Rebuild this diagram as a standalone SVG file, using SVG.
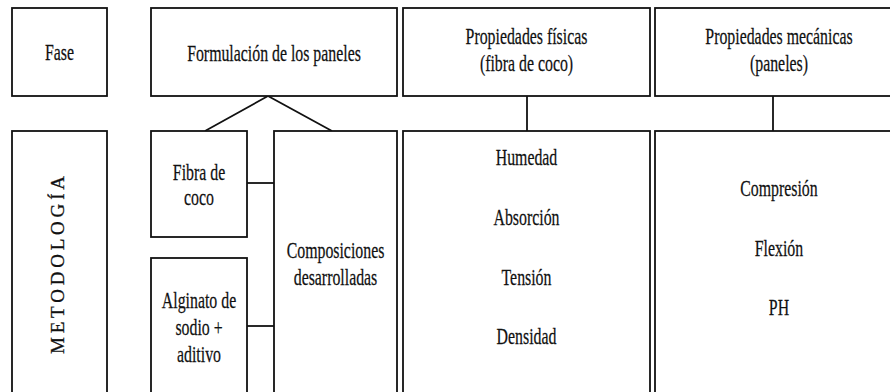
<svg xmlns="http://www.w3.org/2000/svg" width="890" height="392" viewBox="0 0 890 392">
<style>
.box{fill:#fff;stroke:#111;stroke-width:1.8}
.ln{fill:none;stroke:#111;stroke-width:1.8}
text{font-family:'Liberation Serif','Times New Roman',serif;fill:#111;text-anchor:middle}
.t{font-size:24px;stroke:#111;stroke-width:0.25}
.v{font-size:19px;stroke:#111;stroke-width:0.3}
</style>
<rect width="890" height="392" fill="#fff"/>
<g id="connectors">
<polyline class="ln" points="205,131 268,96 332,131"/>
<line class="ln" x1="527" y1="96" x2="527" y2="131"/>
<line class="ln" x1="773" y1="96" x2="773" y2="131"/>
<line class="ln" x1="247" y1="183" x2="274" y2="183"/>
<line class="ln" x1="247" y1="326" x2="274" y2="326"/>
</g>
<g id="fase">
<rect class="box" x="12" y="8" width="95" height="88"/>
<text class="t" transform="translate(59.5 60) scale(0.66 1)">Fase</text>
</g>
<g id="formulacion">
<rect class="box" x="151" y="8" width="246" height="88"/>
<text class="t" transform="translate(274 61) scale(0.66 1)">Formulación de los paneles</text>
</g>
<g id="fisicas">
<rect class="box" x="403" y="8" width="247" height="88"/>
<text class="t" transform="translate(526.5 44) scale(0.66 1)">Propiedades físicas</text>
<text class="t" transform="translate(526.5 71) scale(0.66 1)">(fibra de coco)</text>
</g>
<g id="mecanicas">
<rect class="box" x="655" y="8" width="250" height="88"/>
<text class="t" transform="translate(779 44) scale(0.66 1)">Propiedades mecánicas</text>
<text class="t" transform="translate(779 71) scale(0.66 1)">(paneles)</text>
</g>
<g id="metodologia">
<rect class="box" x="12" y="131" width="95" height="275"/>
<text class="v" transform="translate(64 265) rotate(-90)" textLength="178" lengthAdjust="spacing">METODOLOGÍA</text>
</g>
<g id="fibra">
<rect class="box" x="151" y="131" width="96" height="106"/>
<text class="t" transform="translate(199 180) scale(0.66 1)">Fibra de</text>
<text class="t" transform="translate(199 205) scale(0.66 1)">coco</text>
</g>
<g id="alginato">
<rect class="box" x="151" y="258" width="96" height="148"/>
<text class="t" transform="translate(199 308) scale(0.66 1)">Alginato de</text>
<text class="t" transform="translate(199 335) scale(0.66 1)">sodio +</text>
<text class="t" transform="translate(199 362) scale(0.66 1)">aditivo</text>
</g>
<g id="composiciones">
<rect class="box" x="274" y="131" width="123" height="275"/>
<text class="t" transform="translate(335.5 258) scale(0.66 1)">Composiciones</text>
<text class="t" transform="translate(335.5 285) scale(0.66 1)">desarrolladas</text>
</g>
<g id="fisicas-lista">
<rect class="box" x="403" y="131" width="247" height="275"/>
<text class="t" transform="translate(526.5 165) scale(0.66 1)">Humedad</text>
<text class="t" transform="translate(526.5 225) scale(0.66 1)">Absorción</text>
<text class="t" transform="translate(526.5 285) scale(0.66 1)">Tensión</text>
<text class="t" transform="translate(526.5 344) scale(0.66 1)">Densidad</text>
</g>
<g id="mecanicas-lista">
<rect class="box" x="655" y="131" width="250" height="275"/>
<text class="t" transform="translate(779 196) scale(0.66 1)">Compresión</text>
<text class="t" transform="translate(779 256) scale(0.66 1)">Flexión</text>
<text class="t" transform="translate(779 315) scale(0.66 1)">PH</text>
</g>
</svg>
